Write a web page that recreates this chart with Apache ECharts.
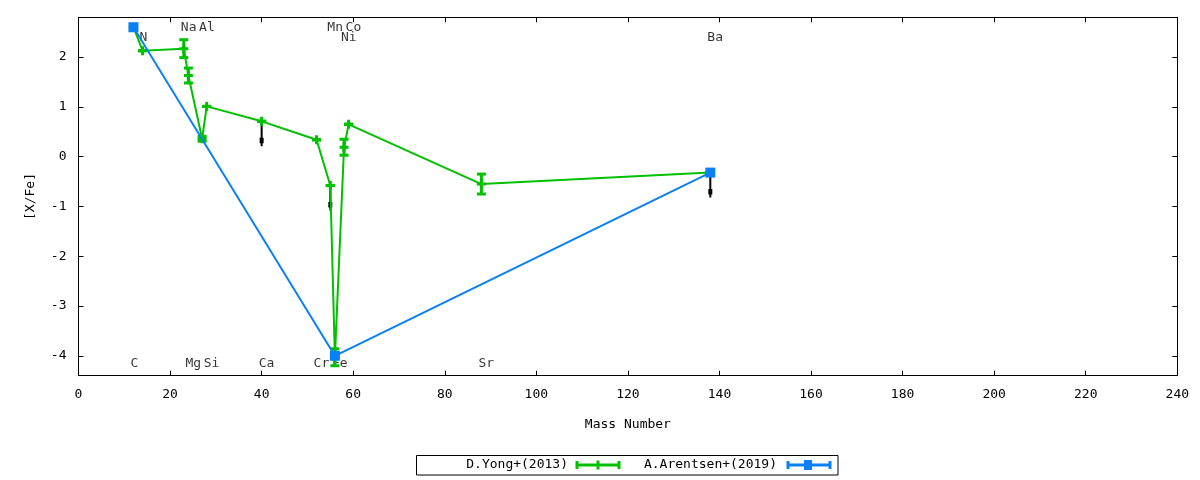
<!DOCTYPE html>
<html>
<head>
<meta charset="utf-8">
<script src="https://cdn.jsdelivr.net/npm/echarts@6/dist/echarts.min.js"></script>
<style>
html,body{margin:0;padding:0;background:#fff;}
#chart{width:1200px;height:480px;}
</style>
</head>
<body>
<div id="chart"></div>
<script>
// ---- data ----
const yongMass  = [12, 14, 23, 24, 27, 28, 40, 52, 55, 56, 58, 59, 88, 138];
const yongXFe   = [2.6, 2.13, 2.17, 1.63, 0.36, 1.01, 0.71, 0.34, -0.58, -4.03, 0.19, 0.65, -0.55, -0.32];
const yongErr   = [0, 0, 0.18, 0.15, 0.05, 0, 0, 0, 0, 0.17, 0.16, 0, 0.2, 0];
const arentsenMass = [12, 56, 138];
const arentsenXFe  = [2.6, -4.0, -0.32];
const limitMass = [40, 55, 138];
const limitXFe  = [0.71, -0.58, -0.32];
const limitLen  = 0.5;
const elemNames = ['C', 'N', 'Na', 'Mg', 'Al', 'Si', 'Ca', 'Cr', 'Mn', 'Fe', 'Co', 'Ni', 'Sr', 'Ba'];
const elemMass  = [12, 14, 23, 24, 27, 28, 40, 52, 55, 56, 59, 58, 88, 138];
const elemRowY  = [-4.15, 2.40, 2.59, -4.15, 2.59, -4.15, -4.15, -4.15, 2.59, -4.15, 2.59, 2.40, -4.15, 2.40];
const xTicks = [0, 20, 40, 60, 80, 100, 120, 140, 160, 180, 200, 220, 240];
const yTicks = [-4, -3, -2, -1, 0, 1, 2];
const seriesNames = ['D.Yong+(2013)', 'A.Arentsen+(2019)'];

const GREEN = '#00c000';
const BLUE = '#0a80f5';
const FONT = 'DejaVu Sans Mono';

const yongData = yongMass.map((m, i) => [m, yongXFe[i], yongErr[i]]);
const arData = arentsenMass.map((m, i) => [m, arentsenXFe[i]]);
const limData = limitMass.map((m, i) => [m, limitXFe[i]]);
const labData = elemNames.map((n, i) => ({ value: [elemMass[i], elemRowY[i]], name: n }));

const chart = echarts.init(document.getElementById('chart'), null, { renderer: 'canvas' });

const lineSt = { color: '#000', width: 1 };
const plusPath = 'path://M3,0H6V3H9V6H6V9H3V6H0V3H3Z';

const option = {
  animation: false,
  backgroundColor: '#fff',
  grid: { left: 78.5, right: 22.7, top: 17.3, bottom: 104.3, containLabel: false },
  xAxis: [
    {
      type: 'value', min: 0, max: 240, interval: 20, position: 'bottom',
      axisLine: { show: true, onZero: false, lineStyle: lineSt },
      axisTick: { show: true, inside: true, length: 5, lineStyle: lineSt },
      splitLine: { show: false },
      name: 'Mass Number', nameLocation: 'middle', nameGap: 42,
      nameTextStyle: { color: '#000', fontFamily: FONT, fontSize: 13 },
      axisLabel: { color: '#000', fontFamily: FONT, fontSize: 13, margin: 12 }
    },
    {
      type: 'value', min: 0, max: 240, interval: 20, position: 'top',
      axisLine: { show: true, onZero: false, lineStyle: lineSt },
      axisTick: { show: true, inside: true, length: 5, lineStyle: lineSt },
      splitLine: { show: false },
      axisLabel: { show: false }
    }
  ],
  yAxis: [
    {
      type: 'value', min: -4.4, max: 2.8, position: 'left',
      axisLine: { show: true, onZero: false, lineStyle: lineSt },
      splitLine: { show: false },
      name: '[X/Fe]', nameLocation: 'middle', nameGap: 41,
      nameTextStyle: { color: '#000', fontFamily: FONT, fontSize: 13 },
      axisTick: { show: true, inside: true, length: 5, customValues: yTicks, lineStyle: lineSt },
      axisLabel: { color: '#000', fontFamily: FONT, fontSize: 13, margin: 12, customValues: yTicks,
        formatter: v => (Math.abs(v - Math.round(v)) < 1e-6 ? String(Math.round(v)) : '') }
    },
    {
      type: 'value', min: -4.4, max: 2.8, position: 'right',
      axisLine: { show: true, onZero: false, lineStyle: lineSt },
      splitLine: { show: false },
      axisTick: { show: true, inside: true, length: 5, customValues: yTicks, lineStyle: lineSt },
      axisLabel: { show: false }
    }
  ],
  series: [
    {
      name: 'labels', type: 'scatter', z: 1, silent: true,
      symbol: 'circle', symbolSize: 1, itemStyle: { color: 'rgba(0,0,0,0)' },
      data: labData,
      label: { show: true, formatter: p => p.name, position: [-2.5, 0.5], align: 'left', verticalAlign: 'middle',
        color: '#000', fontFamily: FONT, fontSize: 13 }
    },
    {
      name: 'limits', type: 'custom', z: 2, silent: true,
      data: limData,
      renderItem: function (params, api) {
        const x = api.value(0), y = api.value(1);
        const p0 = api.coord([x, y]);
        const p1 = api.coord([x, y - limitLen]);
        return { type: 'group', children: [
          { type: 'line', shape: { x1: p0[0], y1: p0[1], x2: p1[0], y2: p1[1] }, style: { stroke: '#000', lineWidth: 2 } },
          { type: 'rect', shape: { x: p1[0] - 2, y: p1[1] - 8.5, width: 4, height: 5.5 }, style: { fill: '#000' } }
        ] };
      }
    },
    {
      name: seriesNames[0], type: 'line', z: 3,
      data: yongData.map(d => [d[0], d[1]]),
      lineStyle: { color: GREEN, width: 2 },
      itemStyle: { color: GREEN },
      symbol: plusPath, symbolSize: 9, showSymbol: true
    },
    {
      name: 'yongErr', type: 'custom', z: 4, silent: true,
      data: yongData,
      renderItem: function (params, api) {
        const x = api.value(0), y = api.value(1), e = api.value(2);
        const t = api.coord([x, y + e]);
        const b = api.coord([x, y - e]);
        const hw = 4.5;
        const st = { stroke: GREEN, lineWidth: 3 };
        return { type: 'group', children: [
          { type: 'line', shape: { x1: t[0], y1: t[1], x2: b[0], y2: b[1] }, style: st },
          { type: 'line', shape: { x1: t[0] - hw, y1: t[1], x2: t[0] + hw, y2: t[1] }, style: st },
          { type: 'line', shape: { x1: b[0] - hw, y1: b[1], x2: b[0] + hw, y2: b[1] }, style: st }
        ] };
      }
    },
    {
      name: seriesNames[1], type: 'line', z: 5,
      data: arData,
      lineStyle: { color: BLUE, width: 2 },
      itemStyle: { color: BLUE },
      symbol: 'rect', symbolSize: 10, showSymbol: true
    }
  ],
  graphic: [
    { type: 'rect', shape: { x: 416.5, y: 455.5, width: 421.5, height: 19.5 }, style: { fill: 'none', stroke: '#000', lineWidth: 1 } },
    { type: 'text', x: 568, y: 465, style: { text: seriesNames[0], fill: '#000', font: '13px "DejaVu Sans Mono"', textAlign: 'right', textVerticalAlign: 'middle' } },
    { type: 'line', shape: { x1: 576, y1: 465, x2: 620, y2: 465 }, style: { stroke: GREEN, lineWidth: 3 } },
    { type: 'line', shape: { x1: 577, y1: 461, x2: 577, y2: 469 }, style: { stroke: GREEN, lineWidth: 3 } },
    { type: 'line', shape: { x1: 619, y1: 461, x2: 619, y2: 469 }, style: { stroke: GREEN, lineWidth: 3 } },
    { type: 'line', shape: { x1: 598, y1: 460.5, x2: 598, y2: 469.5 }, style: { stroke: GREEN, lineWidth: 3 } },
    { type: 'text', x: 777, y: 465, style: { text: seriesNames[1], fill: '#000', font: '13px "DejaVu Sans Mono"', textAlign: 'right', textVerticalAlign: 'middle' } },
    { type: 'line', shape: { x1: 787, y1: 465, x2: 831, y2: 465 }, style: { stroke: BLUE, lineWidth: 3 } },
    { type: 'line', shape: { x1: 788, y1: 461, x2: 788, y2: 469 }, style: { stroke: BLUE, lineWidth: 3 } },
    { type: 'line', shape: { x1: 830, y1: 461, x2: 830, y2: 469 }, style: { stroke: BLUE, lineWidth: 3 } },
    { type: 'rect', shape: { x: 804, y: 460, width: 8, height: 10 }, style: { fill: BLUE } }
  ]
};

chart.setOption(option);
</script>
</body>
</html>
